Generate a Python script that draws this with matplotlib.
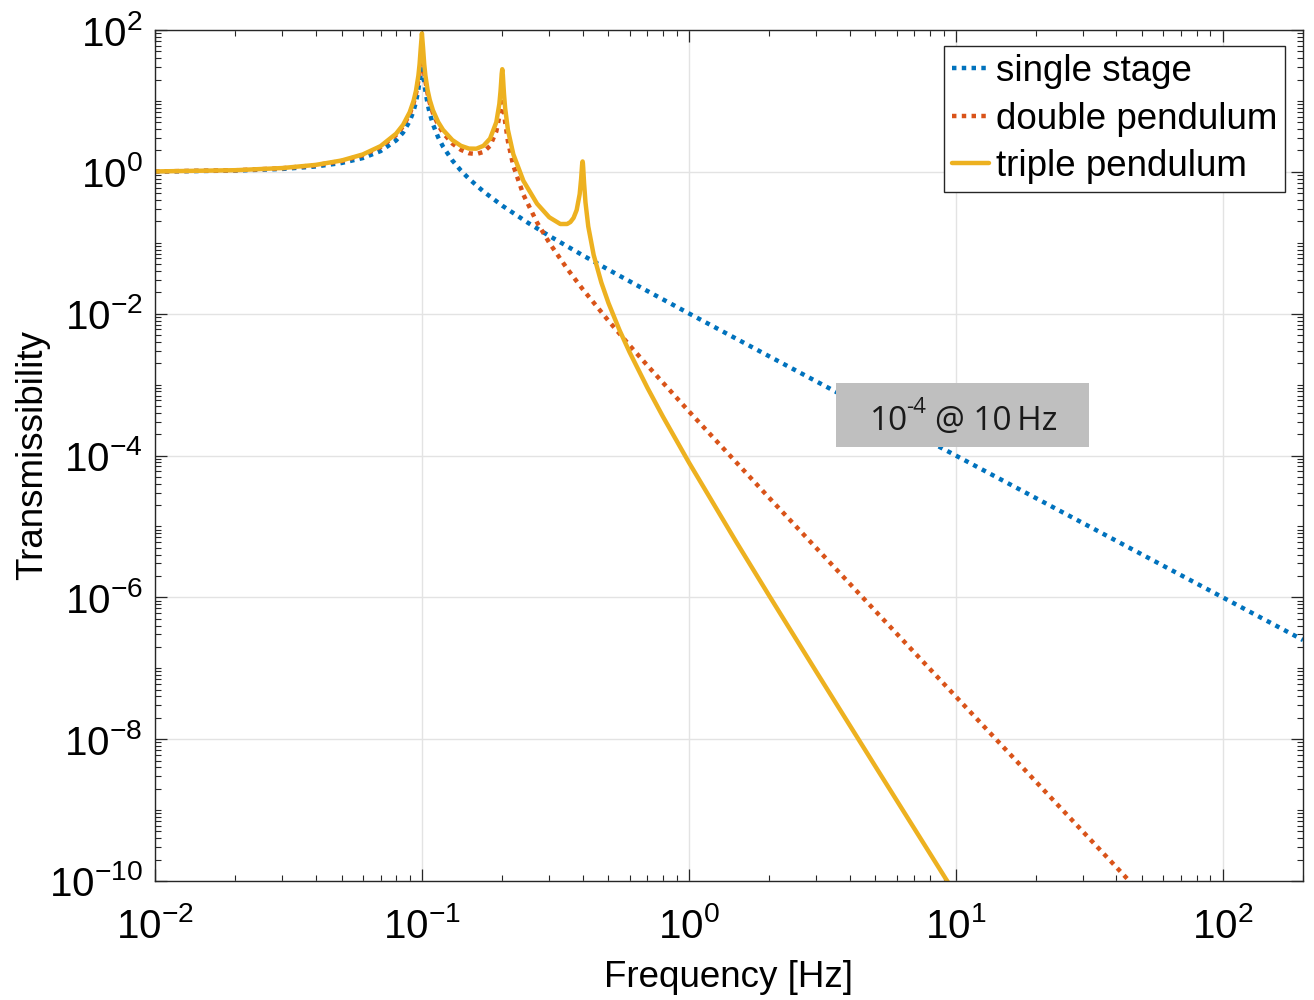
import numpy as np
import matplotlib
matplotlib.use("Agg")
import matplotlib.pyplot as plt
from matplotlib.ticker import LogLocator, NullFormatter
from matplotlib.patches import Rectangle

# ---- data ----
freq_single = [0.01, 0.02, 0.03, 0.04, 0.05, 0.06, 0.07, 0.08, 0.085, 0.09, 0.093, 0.095,
               0.097, 0.098, 0.099, 0.1, 0.101, 0.102, 0.103, 0.105, 0.107, 0.11, 0.115,
               0.12, 0.13, 0.14, 0.15, 0.17, 0.2, 0.25, 0.3, 0.4, 0.5, 0.7, 1, 2, 5, 10,
               20, 50, 100, 200]
single_stage = [1.010, 1.042, 1.099, 1.190, 1.333, 1.563, 1.961, 2.769, 3.58, 5.19, 7.19,
                9.69, 14.6, 18.9, 24.7, 28.0, 24.2, 18.4, 14.1, 9.16, 6.67, 4.68, 3.08,
                2.263, 1.449, 1.042, 0.800, 0.529, 0.3333, 0.1905, 0.125, 0.0667, 0.04167,
                0.02083, 0.0101, 2.506e-3, 4.0e-4, 1.0e-4, 2.5e-5, 4.0e-6, 1.0e-6, 2.5e-7]

freq_double = [0.01, 0.02, 0.03, 0.04, 0.05, 0.06, 0.07, 0.08, 0.085, 0.09, 0.093, 0.095,
               0.097, 0.098, 0.099, 0.1, 0.101, 0.102, 0.103, 0.105, 0.107, 0.11, 0.115,
               0.12, 0.13, 0.14, 0.15, 0.16, 0.17, 0.18, 0.19, 0.195, 0.197, 0.198, 0.199,
               0.2, 0.201, 0.202, 0.203, 0.205, 0.21, 0.22, 0.24, 0.27, 0.3, 0.35, 0.4,
               0.5, 0.6, 0.7, 1, 2, 5, 10, 20, 50]
double_pendulum = [1.013, 1.052, 1.124, 1.240, 1.422, 1.717, 2.235, 3.307, 4.374, 6.514,
                   9.189, 12.56, 19.26, 25.28, 33.52, 38.67, 33.38, 25.23, 19.30, 12.70,
                   9.370, 6.718, 4.598, 3.536, 2.509, 2.043, 1.829, 1.781, 1.907, 2.319,
                   3.725, 5.974, 7.685, 8.666, 9.455, 9.667, 9.117, 8.073, 6.927, 5.059,
                   2.698, 1.220, 0.4755, 0.1933, 0.1, 0.0431, 0.02222, 7.937e-3, 3.571e-3,
                   1.852e-3, 4.209e-4, 2.532e-5, 6.413e-7, 4.002e-8, 2.5e-9, 6.4e-11]

freq_triple = [0.01, 0.02, 0.03, 0.04, 0.05, 0.06, 0.07, 0.08, 0.085, 0.09, 0.093, 0.095,
               0.097, 0.098, 0.099, 0.1, 0.101, 0.102, 0.103, 0.105, 0.107, 0.11, 0.115,
               0.12, 0.13, 0.14, 0.15, 0.16, 0.17, 0.18, 0.19, 0.195, 0.197, 0.198, 0.199,
               0.2, 0.201, 0.202, 0.203, 0.205, 0.21, 0.22, 0.24, 0.27, 0.3, 0.33, 0.35,
               0.36, 0.37, 0.38, 0.39, 0.395, 0.397, 0.398, 0.399, 0.4, 0.401, 0.402, 0.403,
               0.405, 0.41, 0.42, 0.44, 0.47, 0.5, 0.55, 0.6, 0.7, 0.8, 1, 1.5, 2, 3, 5, 10]
triple_pendulum = [1.013, 1.055, 1.131, 1.253, 1.445, 1.757, 2.305, 3.445, 4.600, 6.931,
                   9.925, 13.87, 22.75, 32.91, 55.64, 89.6, 55.77, 33.22, 23.12, 14.28,
                   10.34, 7.361, 5.050, 3.902, 2.806, 2.328, 2.128, 2.120, 2.327, 2.938,
                   5.015, 9.043, 13.63, 17.89, 24.04, 28.0, 23.37, 16.95, 12.60, 7.963,
                   3.899, 1.772, 0.7461, 0.3551, 0.2286, 0.1838, 0.1839, 0.1959, 0.2242,
                   0.2890, 0.4852, 0.8037, 1.062, 1.219, 1.354, 1.400, 1.316, 1.152, 0.9759,
                   0.7015, 0.3713, 0.1697, 0.06732, 0.02755, 0.01411, 5.849e-3, 2.857e-3,
                   8.979e-4, 3.527e-4, 8.017e-5, 6.186e-6, 1.055e-6, 8.988e-8, 4.131e-9,
                   6.414e-11]

series_labels = ["single stage", "double pendulum", "triple pendulum"]
x_label = "Frequency [Hz]"
y_label = "Transmissibility"
y_major_ticks = [1e-10, 1e-8, 1e-6, 1e-4, 1e-2, 1e0, 1e2]
annot_base, annot_exp, annot_rest = "10", "-4", "@ 10\u2009Hz"

# ---- style ----
plt.rcParams["font.family"] = ["Liberation Sans", "DejaVu Sans"]
plt.rcParams["mathtext.fontset"] = "custom"
plt.rcParams["mathtext.rm"] = "Liberation Sans"
plt.rcParams["mathtext.it"] = "Liberation Sans:italic"
plt.rcParams["mathtext.bf"] = "Liberation Sans:bold"
plt.rcParams["axes.unicode_minus"] = False

W, H = 1314, 1000
fig = plt.figure(figsize=(W / 100, H / 100), dpi=100)
L, R, T, B = 155, 1303, 30, 881
ax = fig.add_axes([L / W, 1 - B / H, (R - L) / W, (B - T) / H])

blue, orange, yellow = "#0072BD", "#D95319", "#EDB120"
lw = 3.2
ax.plot(freq_single, single_stage, color=blue, lw=lw, linestyle=(0, (1, 1.2)),
        dash_capstyle="butt", label=series_labels[0])
ax.plot(freq_double, double_pendulum, color=orange, lw=lw, linestyle=(0, (1, 1.2)),
        dash_capstyle="butt", label=series_labels[1])
ax.plot(freq_triple, triple_pendulum, color=yellow, lw=lw, solid_capstyle="round",
        solid_joinstyle="round", label=series_labels[2])

ax.set_xscale("log")
ax.set_yscale("log")
ax.set_xlim(1e-2, 200)
ax.set_ylim(1e-10, 1e2)
ax.set_yticks(y_major_ticks)
ax.yaxis.set_minor_locator(LogLocator(base=10, subs=np.arange(1, 10), numticks=200))
ax.xaxis.set_minor_locator(LogLocator(base=10, subs=np.arange(2, 10), numticks=200))
ax.xaxis.set_minor_formatter(NullFormatter())
ax.yaxis.set_minor_formatter(NullFormatter())

axcol = "#262626"
for s in ax.spines.values():
    s.set_color(axcol)
    s.set_linewidth(1.0)
ax.tick_params(which="both", direction="in", top=True, right=True, colors=axcol,
               labelcolor="black")
ax.tick_params(which="major", length=8.5, width=0.9, labelsize=29)
ax.tick_params(which="minor", length=4.3, width=0.8)
ax.xaxis.set_tick_params(which="major", pad=19)
ax.yaxis.set_tick_params(which="major", pad=9)
ax.grid(True, which="major", color="#E3E3E3", lw=1.0)
ax.set_axisbelow(True)

ax.set_xlabel(x_label, fontsize=26.5, va="top")
ax.xaxis.set_label_coords(0.5, (B - 960) / (B - T))
ax.set_ylabel(y_label, fontsize=26.5, va="bottom")
ax.yaxis.set_label_coords((50 - L) / (R - L), 0.5)

leg = ax.legend(loc="upper right", bbox_to_anchor=((1285 - L) / (R - L), (B - 46) / (B - T)),
                borderaxespad=0, fontsize=26.5, handlelength=1.0, handletextpad=0.17,
                labelspacing=0.34, borderpad=0.22, fancybox=False, framealpha=1)
leg.get_frame().set_edgecolor("#262626")
leg.get_frame().set_linewidth(1.0)

# annotation box
fig.patches.append(Rectangle((836 / W, 1 - 447 / H), 253 / W, 64 / H,
                             transform=fig.transFigure, facecolor="#BFBFBF",
                             edgecolor="none", zorder=5))
fig.text(870 / W, 1 - 430 / H, annot_base, fontsize=24, family="Open Sans",
         color="#1a1a1a", ha="left", va="baseline", zorder=6)
fig.text(906 / W, 1 - 413 / H, annot_exp, fontsize=16, family="Open Sans",
         color="#1a1a1a", ha="left", va="baseline", zorder=6)
fig.text(935 / W, 1 - 430 / H, annot_rest, fontsize=24, family="Open Sans",
         color="#1a1a1a", ha="left", va="baseline", zorder=6)

fig.savefig("out.png", dpi=100)
